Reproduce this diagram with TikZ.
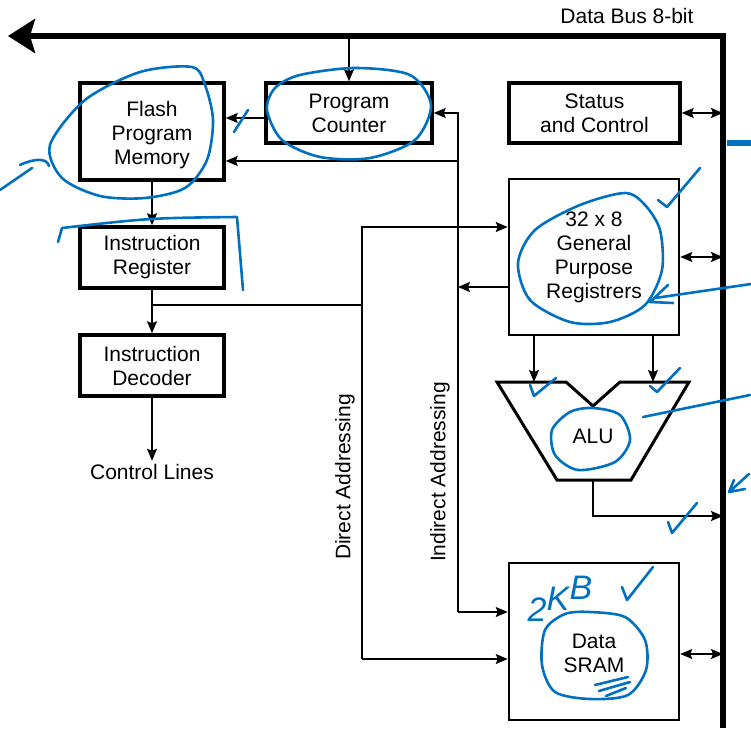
\documentclass[tikz,border=0pt]{standalone}
\usepackage{fontspec}
\setmainfont{Liberation Sans}
\usepackage{tikz}
\usetikzlibrary{positioning, shapes, arrows.meta}
\definecolor{pen}{RGB}{0,112,192}

\begin{document}
\begin{tikzpicture}[x=1pt, y=-1pt,
    txt/.style={font=\fontsize{21}{24}\selectfont, align=center},
    box/.style={txt, draw, line width=3.5pt, inner sep=0pt},
    thinbox/.style={box, line width=2.5pt},
    arr/.style={line width=1.4pt, -{Stealth[length=12pt, width=10pt, inset=2pt]}},
    dbl/.style={line width=1.4pt, {Stealth[length=12pt, width=10pt, inset=2pt]}-{Stealth[length=12pt, width=10pt, inset=2pt]}},
    bus/.style={line width=6pt, line join=miter},
    ink/.style={pen, line width=2.6pt, line cap=round, line join=round},
    hand/.style={pen, inner sep=0pt, font=\fontsize{34}{34}\selectfont\itshape}]
        \useasboundingbox (0,0) rectangle (751,735);

        % data bus
        \coordinate (busL) at (8,36);
        \coordinate (busC) at (723,36);
        \coordinate (busB) at (723,728);
        \draw[bus, -{Stealth[length=27pt, width=34pt, inset=5pt]}] (busB) -- (busC) -- (busL);
        \node[txt, anchor=east] (buslabel) at (697,16) {Data Bus 8-bit};

        % blocks
        \node[box, minimum width=144, minimum height=97] (flash) at (152,131.5) {};
        \node[txt] (flashtxt) at (152,135) {Flash\\Program\\Memory};
        \node[box, minimum width=166, minimum height=60] (pc) at (349,113) {Program\\Counter};
        \node[box, minimum width=171, minimum height=60] (status) at (594.5,113) {Status\\and Control};
        \node[box, minimum width=144, minimum height=61] (ir) at (152,257.5) {Instruction\\Register};
        \node[box, minimum width=144, minimum height=61] (dec) at (152,365.5) {Instruction\\Decoder};
        \node[txt] (ctrl) at (152,472) {Control Lines};
        \node[thinbox, minimum width=170, minimum height=156] (gpr) at (594,257) {32 x 8\\General\\Purpose\\Registrers};
        \node[thinbox, minimum width=170, minimum height=157] (sram) at (594,641.5) {};
        \node[txt, inner sep=1pt] (sramtxt) at (594,653) {Data\\SRAM};

        % ALU
        \draw[line width=3pt, line join=miter] (497,382) -- (566,382) -- (593,406) -- (620,382) -- (689,382) -- (631,480) -- (557,480) -- cycle;
        \node[txt] (alu) at (593,436) {ALU};
        \coordinate (aluA) at (534,382);
        \coordinate (aluB) at (653,382);
        \coordinate (aluout) at (593,480);

        % left column
        \draw[arr] (busC -| pc.north) -- (pc.north);
        \draw[arr] ([yshift=-5pt]pc.west) -- (flash.east |- 0,118);
        \draw[arr] (flash.south) -- (ir.north);
        \draw[arr] (ir.south) -- (dec.north);
        \draw[arr] (dec.south) -- (ctrl.north);

        % direct addressing
        \coordinate (dirtop) at (362,227);
        \coordinate (dirbot) at (362,659);
        \draw[line width=1.4pt] (ir.south |- 0,305) -- (dirtop |- 0,305);
        \draw[arr] (dirbot) -- (dirtop) -- (gpr.west |- dirtop);
        \draw[arr] (dirbot) -- (sram.west |- dirbot);
        \node[txt, rotate=90] (dirlabel) at (345,477) {Direct Addressing};

        % indirect addressing
        \coordinate (indtop) at (458,113);
        \coordinate (indbot) at (458,612);
        \draw[arr] (indbot) -- (indtop) -- (pc.east);
        \draw[arr] (indtop |- 0,161) -- (flash.east |- 0,161);
        \draw[arr] (indbot) -- (sram.west |- indbot);
        \draw[arr] (gpr.west |- 0,287) -- (indtop |- 0,287);
        \node[txt, rotate=90] (indlabel) at (440,472) {Indirect Addressing};

        % registers, ALU and bus
        \draw[arr] (gpr.south -| aluA) -- (aluA);
        \draw[arr] (gpr.south -| aluB) -- (aluB);
        \draw[arr] (aluout) -- (aluout |- 0,516) -- (busC |- 0,516);
        \draw[dbl] (status.east) -- (busC |- status.east);
        \draw[dbl] (gpr.east) -- (busC |- gpr.east);
        \draw[dbl] (sram.east |- 0,654) -- (busC |- 0,654);

        % notes in blue ink
        \draw[ink] plot[smooth cycle] coordinates {(192,67) (140,72) (85,100) (50,145) (62,178) (100,196) (145,198) (185,188) (207,160) (213,120) (205,85)};
        \draw[ink] plot[smooth cycle] coordinates {(300,75) (355,68) (410,75) (431,105) (415,140) (370,158) (320,157) (282,140) (267,110) (275,88)};
        \draw[ink] plot[smooth cycle] coordinates {(625,193) (580,205) (535,230) (518,263) (530,300) (570,322) (610,322) (645,305) (662,270) (660,230) (645,205)};
        \draw[ink] plot[smooth cycle] coordinates {(593,408) (620,415) (630,440) (615,462) (578,470) (555,455) (552,430) (570,412)};
        \draw[ink] plot[smooth cycle] coordinates {(590,612) (625,617) (645,640) (646,670) (628,695) (590,699) (555,692) (542,665) (545,630) (565,614)};
        \draw[ink] (234,132) -- (248,110);
        \draw[ink] (0,190) -- (32,168);
        \draw[ink] (20,165) .. controls (35,158) and (47,158) .. (49,166);
        \draw[ink] (58,242) -- (62,228) .. controls (150,218) .. (237,217) -- (243,290);
        \draw[ink] (751,284) -- (655,298);
        \draw[ink] (668,285) -- (650,302) -- (673,303);
        \draw[ink] (658,200) -- (667,207) -- (700,168);
        \draw[ink] (530,385) -- (534,396) -- (556,378);
        \draw[ink] (650,386) -- (657,392) -- (680,368);
        \draw[ink] (643,417) -- (750,395);
        \draw[ink] (749,474) -- (729,492) -- (745,489);
        \draw[ink] (729,492) -- (734,480);
        \draw[ink] (622,587) -- (627,600) -- (653,567);
        \draw[ink] (668,522) -- (672,533) -- (697,503);
        \draw[ink] (595,685) -- (628,677);
        \draw[ink] (599,691) -- (630,682);
        \draw[ink] (606,696) -- (626,688);
        \draw[pen, line width=6pt] (727,143) -- (751,143);
        \node[hand] (kbtwo) at (537,610) {2};
        \node[hand] (kbk) at (558,599) {K};
        \node[hand] (kbb) at (581,588) {B};
\end{tikzpicture}
\end{document}
